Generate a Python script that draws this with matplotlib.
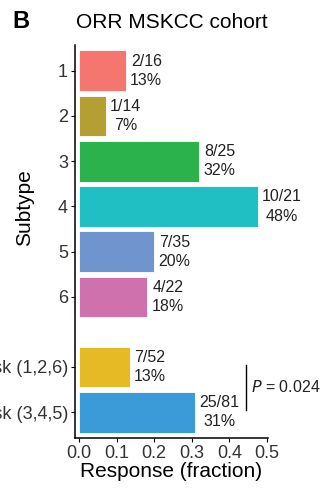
import matplotlib.pyplot as plt

plt.rcParams['font.family'] = ['Liberation Sans', 'DejaVu Sans']

groups = ['1', '2', '3', '4', '5', '6', 'Low risk (1,2,6)', 'High risk (3,4,5)']
responders = [2, 1, 8, 10, 7, 4, 7, 25]
totals = [16, 14, 25, 21, 35, 22, 52, 81]
colors = ['#F4766E', '#B59F32', '#2BB24C', '#1FBFC3', '#7094CE', '#CE71AC', '#E6BA24', '#3A9BD8']
p_label = '= 0.024'

# subtypes on rows 1-6, risk groups below after a gap
ypos = [1, 2, 3, 4, 5, 6, 7.55, 8.55]
frac = [r / t for r, t in zip(responders, totals)]

fig = plt.figure(figsize=(3.22, 4.88), dpi=100)
ax = fig.add_axes([0.2329, 0.1025, 0.5994, 0.8053])

ax.barh(ypos, frac, height=0.9, color=colors, edgecolor='white', linewidth=0.6)
for y, f, r, t in zip(ypos, frac, responders, totals):
    pct = int(f * 100 + 0.5)
    ax.annotate(f'{r}/{t}\n{pct}%', xy=(f, y), xytext=(3, 0),
                textcoords='offset points', ha='left', va='center',
                multialignment='center', fontsize=11.5, linespacing=1.35,
                color='#222222')

# significance bracket between the two risk groups
ax.plot([0.445, 0.445], [7.5, 8.5], color='black', lw=1)
ax.text(0.458, 8.0, '$P$ ' + p_label, ha='left', va='center', fontsize=11.5,
        color='#222222', clip_on=False)

ax.set_ylim(9.12, 0.43)
ax.set_xlim(-0.011, 0.503)
ax.set_yticks(ypos)
ax.set_yticklabels(groups, fontsize=13, color='#333333')
ax.set_xticks([0.0, 0.1, 0.2, 0.3, 0.4, 0.5])
ax.set_xticklabels(['0.0', '0.1', '0.2', '0.3', '0.4', '0.5'], fontsize=13, color='#333333')
ax.tick_params(length=3, width=0.8, pad=2)
ax.set_xlabel('Response (fraction)', fontsize=15, labelpad=0)
for s in ['top', 'right']:
    ax.spines[s].set_visible(False)
for s in ['left', 'bottom']:
    ax.spines[s].set_linewidth(1.1)

fig.text(25 / 322, 1 - 208 / 488, 'Subtype', rotation=90, ha='center', va='center', fontsize=15)
fig.text(0.5326, 1 - 23 / 488, 'ORR MSKCC cohort', ha='center', va='center', fontsize=15)
fig.text(12 / 322, 1 - 21 / 488, 'B', ha='left', va='center', fontsize=17, fontweight='bold')

fig.savefig('out.png', dpi=100)
